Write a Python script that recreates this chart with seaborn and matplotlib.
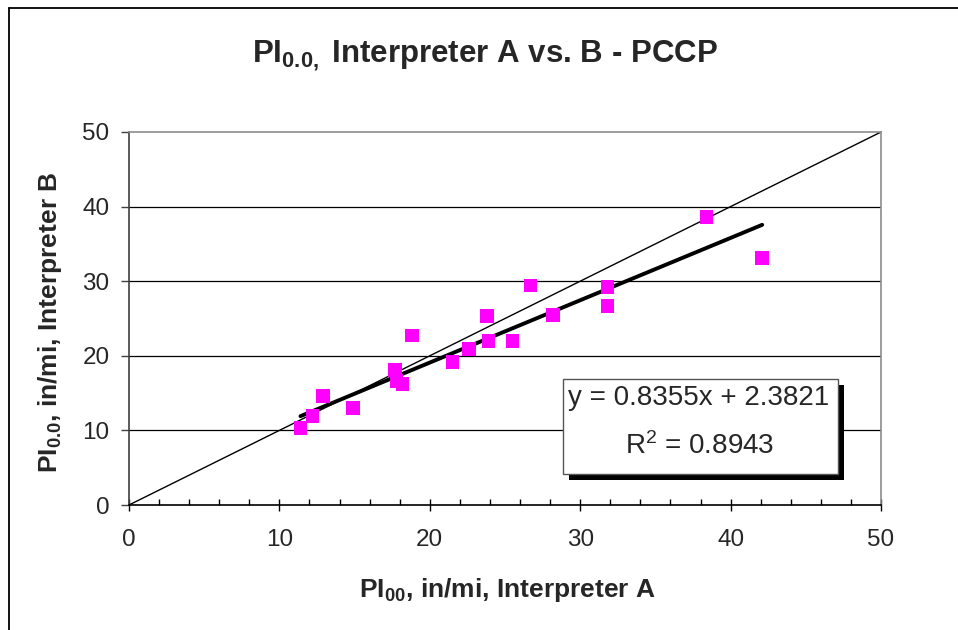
import matplotlib
matplotlib.use("Agg")
import matplotlib.pyplot as plt
import seaborn as sns
import numpy as np
import pandas as pd
from matplotlib.patches import Rectangle
from matplotlib.lines import Line2D
from matplotlib.ticker import MultipleLocator

# ---- data ----
interp_a = [11.4, 12.2, 12.9, 14.9, 17.7, 17.8, 18.2, 18.8, 21.5, 22.6,
            23.8, 23.9, 25.5, 26.7, 28.2, 31.8, 31.8, 38.4, 42.1]
interp_b = [10.3, 11.9, 14.6, 13.0, 18.1, 16.6, 16.2, 22.7, 19.2, 20.9,
            25.3, 22.0, 22.0, 29.4, 25.5, 29.2, 26.7, 38.6, 33.1]
fit_slope = 0.8355
fit_intercept = 2.3821
fit_r2 = 0.8943
identity_x = [0, 50]
x_ticks = [0, 10, 20, 30, 40, 50]
y_ticks = [0, 10, 20, 30, 40, 50]

sns.set_style("white")
plt.rcParams['font.family'] = ['Liberation Sans', 'DejaVu Sans']
plt.rcParams['mathtext.fontset'] = 'custom'
plt.rcParams['mathtext.rm'] = 'Liberation Sans'
plt.rcParams['mathtext.bf'] = 'Liberation Sans:bold'
plt.rcParams['mathtext.it'] = 'Liberation Sans:italic'

fig = plt.figure(figsize=(9.58, 6.3), dpi=100)
ax = fig.add_axes([129/958, 1-505/630, (881-129)/958, (505-132)/630])

df = pd.DataFrame({"A": interp_a, "B": interp_b})
fit_x = [min(interp_a), max(interp_a)]
fit_df = pd.DataFrame({"x": fit_x, "y": [fit_slope*v + fit_intercept for v in fit_x]})
id_df = pd.DataFrame({"x": identity_x, "y": identity_x})

# gridlines
for yv in y_ticks[1:-1]:
    ax.axhline(yv, color='black', lw=0.9, zorder=1)

sns.lineplot(data=id_df, x="x", y="y", ax=ax, color='black', lw=1.0, zorder=2)
sns.lineplot(data=fit_df, x="x", y="y", ax=ax, color='black', lw=2.8, zorder=3)
sns.scatterplot(data=df, x="A", y="B", ax=ax, marker='s', s=95, color='#FF00FF',
                edgecolor='none', linewidth=0, zorder=4)

ax.set_xlim(0, 50)
ax.set_ylim(0, 50)
ax.set_xticks(x_ticks)
ax.set_yticks(y_ticks)
ax.xaxis.set_minor_locator(MultipleLocator(2))
ax.set_xlabel("")
ax.set_ylabel("")

for side in ['top', 'right']:
    ax.spines[side].set_color('#8c8c8c')
    ax.spines[side].set_linewidth(1.2)
ax.spines['left'].set_color('#404040')
ax.spines['left'].set_linewidth(1.2)
ax.spines['bottom'].set_color('black')
ax.spines['bottom'].set_linewidth(1.2)

ax.tick_params(axis='y', which='major', direction='out', length=6, width=1,
               color='#404040', labelsize=17.5, pad=8, left=True)
ax.tick_params(axis='x', which='major', direction='inout', length=9, width=1,
               color='black', labelsize=17.5, pad=13, bottom=True)
ax.tick_params(axis='x', which='minor', direction='in', length=4.5, width=1,
               color='black', bottom=True)

# title and axis labels
fig.text(485/958, 1-62/630, r"PI$_{\mathbf{0.0,}}$ Interpreter A vs. B - PCCP",
         ha='center', va='baseline', fontsize=22.5, fontweight='bold')
fig.text(507/958, 1-597/630, r"PI$_{\mathbf{00}}$, in/mi, Interpreter A",
         ha='center', va='baseline', fontsize=19, fontweight='bold')
fig.text(50/958, 1-322/630, r"PI$_{\mathbf{0.0}}$, in/mi, Interpreter B",
         ha='center', va='center', rotation=90, fontsize=19, fontweight='bold')

# equation box with shadow
bx0, bx1, by0, by1 = 563, 838, 379, 474
off = 6
fig.patches.append(Rectangle(((bx0+off)/958, 1-(by1+off)/630), (bx1-bx0)/958, (by1-by0)/630,
                             transform=fig.transFigure, facecolor='black', edgecolor='none', zorder=5))
fig.patches.append(Rectangle((bx0/958, 1-by1/630), (bx1-bx0)/958, (by1-by0)/630,
                             transform=fig.transFigure, facecolor='white', edgecolor='#555555',
                             lw=1.0, zorder=6))
fig.text(699/958, 1-405/630, f"y = {fit_slope:.4f}x + {fit_intercept:.4f}",
         ha='center', va='baseline', fontsize=20, zorder=7)
fig.text(700/958, 1-454/630, r"R$^{\mathrm{2}}$ = " + f"{fit_r2:.4f}",
         ha='center', va='baseline', fontsize=20, zorder=7)

# figure border (left and top)
fig.lines.append(Line2D([9/958, 9/958], [0, 1-8/630], transform=fig.transFigure,
                        color='black', lw=1.3))
fig.lines.append(Line2D([9/958, 1], [1-8/630, 1-8/630], transform=fig.transFigure,
                        color='black', lw=1.3))

fig.savefig("out.png", dpi=100)
